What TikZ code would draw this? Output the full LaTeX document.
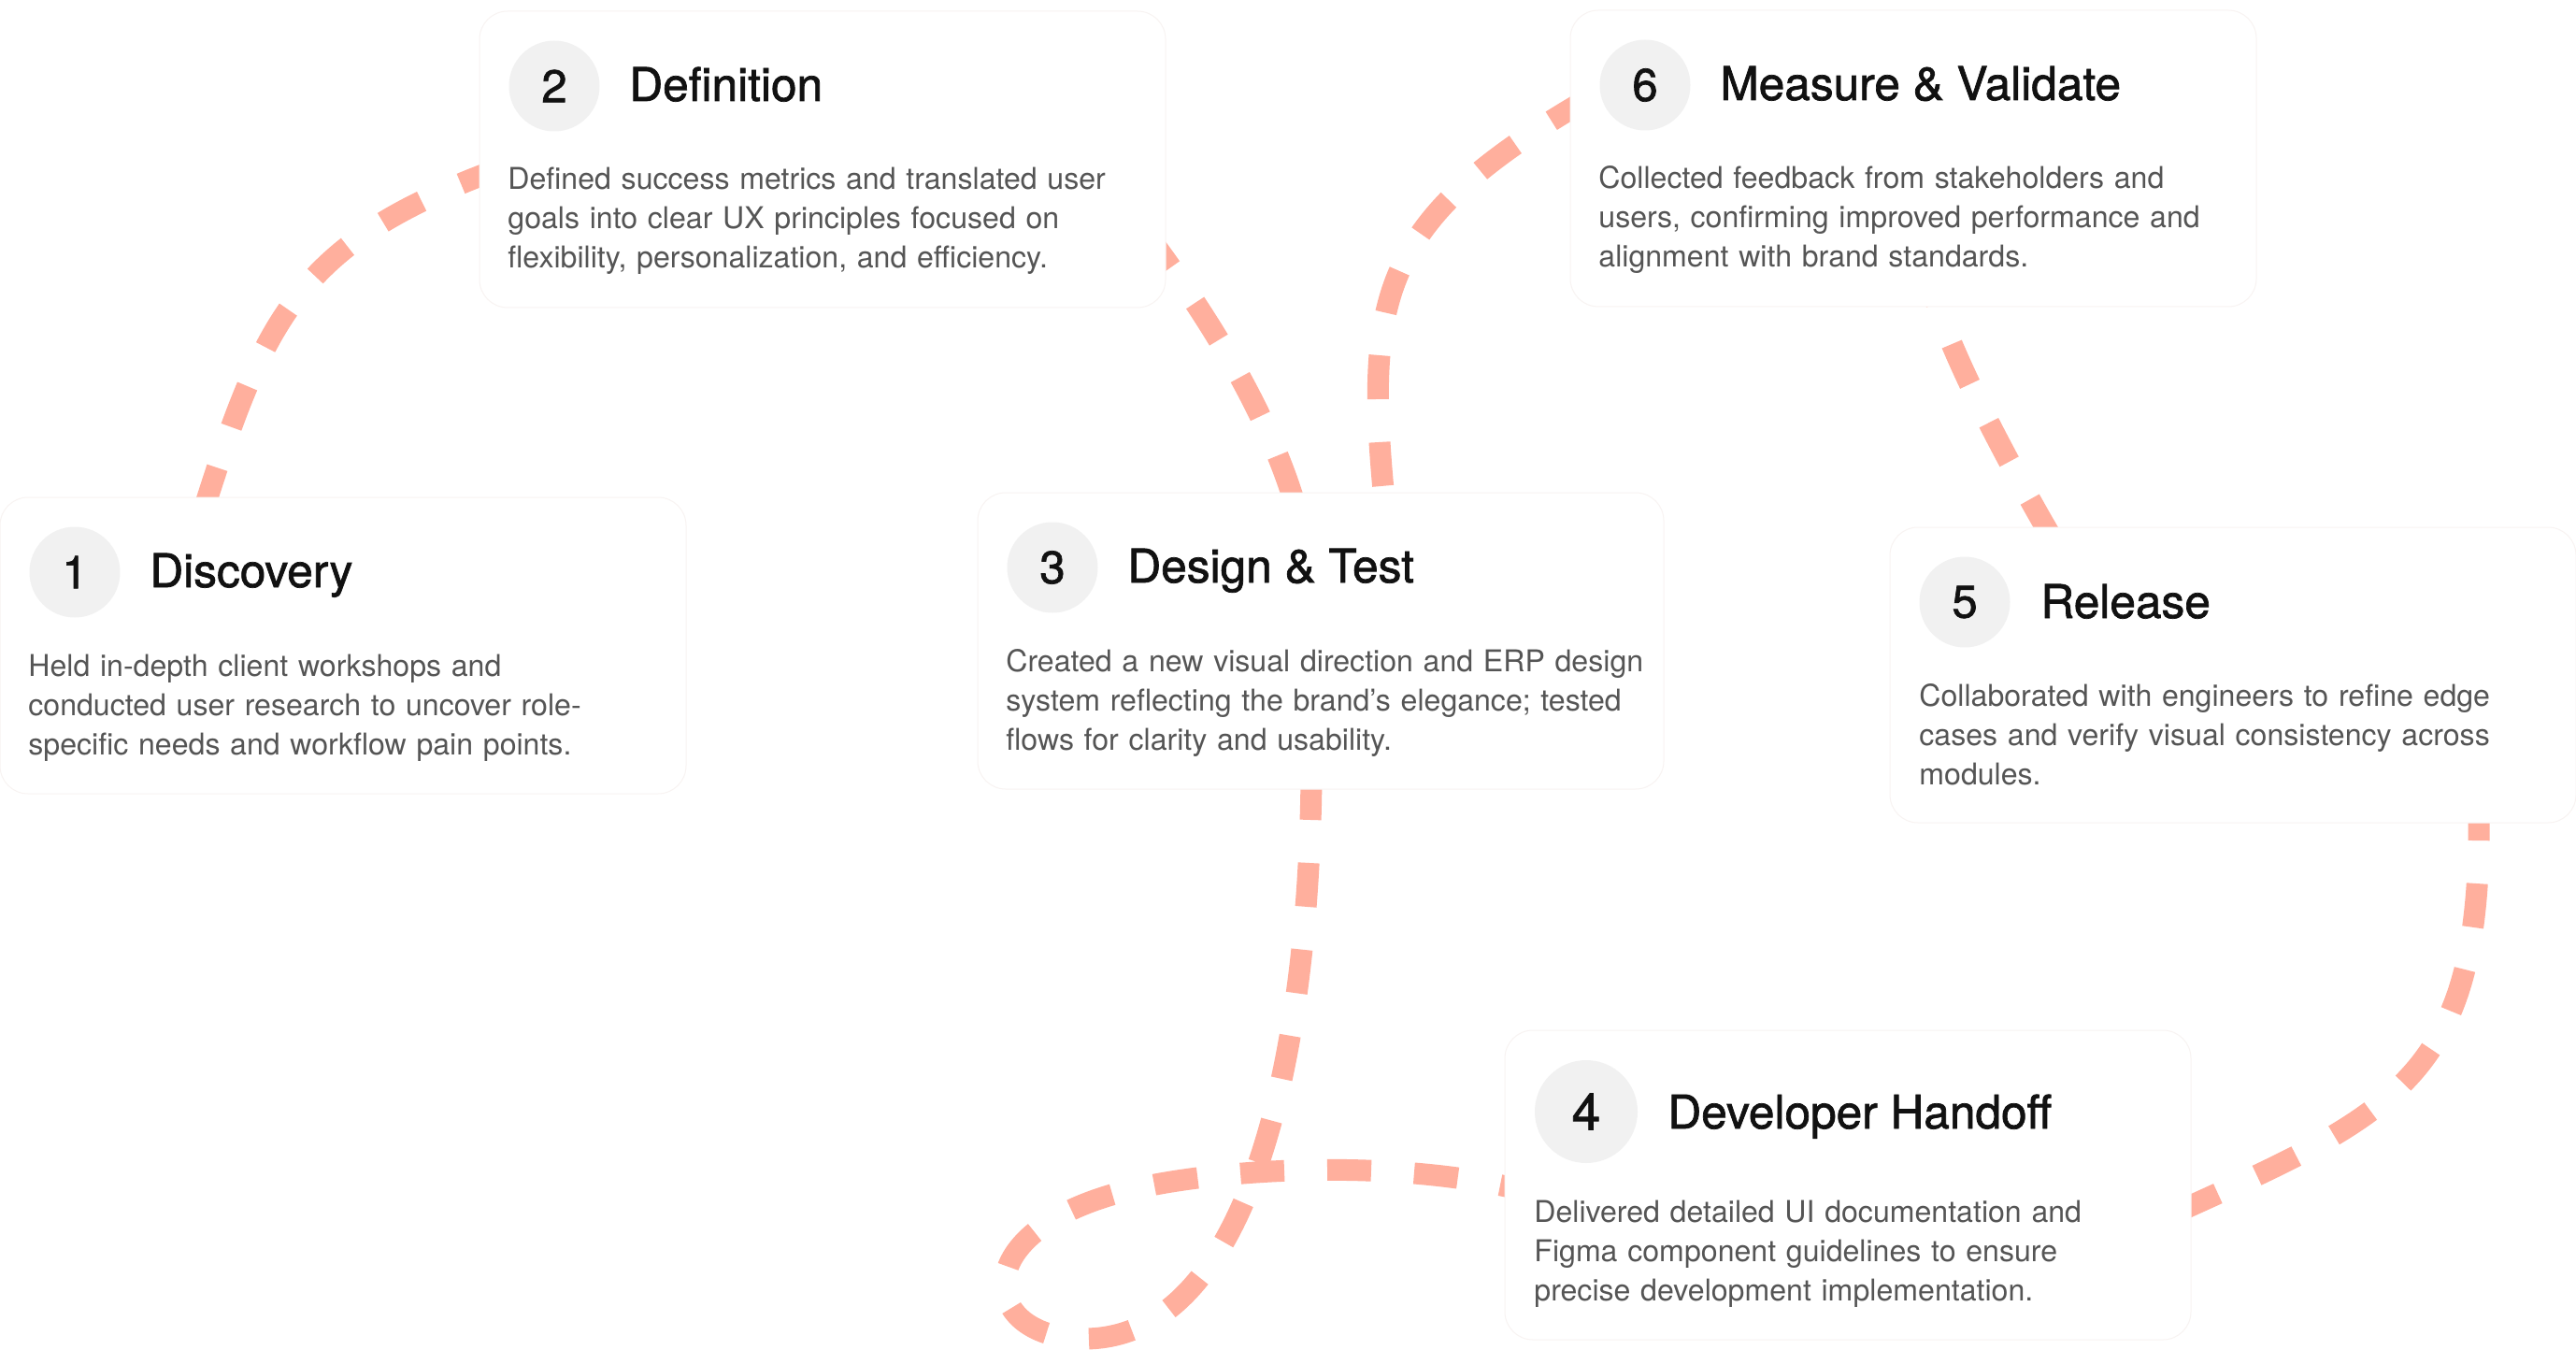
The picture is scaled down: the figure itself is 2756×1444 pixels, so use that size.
\documentclass[tikz,border=0pt]{standalone}
\usepackage{fontspec}
\setmainfont{TeX Gyre Heros}
\newfontfamily\headfont{TeX Gyre Heros}[FakeBold=1.4]
\usetikzlibrary{calc}
\definecolor{trailc}{HTML}{FFAF9D}
\definecolor{circc}{HTML}{F1F1F1}
\definecolor{edgec}{HTML}{F8F3F2}
\definecolor{bodyc}{HTML}{555555}
\definecolor{headc}{HTML}{111111}
\pgfdeclarelayer{bg}
\pgfsetlayers{bg,main}
\begin{document}
\begin{tikzpicture}[x=0.5pt,y=-0.5pt,
  card/.style={draw=edgec, line width=0.5pt, fill=white, rounded corners=15pt,
    minimum width=367pt, minimum height=158.5pt, anchor=north west, inner sep=0pt, outer sep=0pt},
  numdisc/.style={circle, fill=circc, minimum size=48.5pt, inner sep=0pt,
    font=\headfont\fontsize{24.5}{24.5}\selectfont, text=headc},
  heading/.style={anchor=base west, inner sep=0pt, font=\headfont\fontsize{24.8}{29}\selectfont, text=headc},
  bodytext/.style={anchor=base west, inner sep=0pt, text width=360pt, align=left,
    font=\fontsize{16.05}{21}\selectfont, text=bodyc},
  trail/.style={draw=trailc, line width=11.5pt, dash pattern=on 23.5pt off 23pt}
]
\useasboundingbox (0,0) rectangle (2756,1444);

% cards
\node[card] (c1) at (0,532) {};
\node[card] (c2) at (513,12) {};
\node[card] (c3) at (1046,527) {};
\node[card, minimum height=165.5pt] (c4) at (1610,1102) {};
\node[card, minimum height=158pt] (c5) at (2022,564) {};
\node[card] (c6) at (1680,11) {};

% card 1
\node[numdisc] (n1) at ($(c1.north west)+(80,80)$) {1};
\node[heading] (h1) at ($(c1.north west)+(160,96)$) {Discovery};
\node[bodytext] (b1) at ($(c1.north west)+(30,191)$) {Held in-depth client workshops and\\conducted user research to uncover role-\\specific needs and workflow pain points.};

% card 2
\node[numdisc] (n2) at ($(c2.north west)+(80,80)$) {2};
\node[heading] (h2) at ($(c2.north west)+(160,96)$) {Definition};
\node[bodytext] (b2) at ($(c2.north west)+(30,191)$) {Defined success metrics and translated user\\goals into clear UX principles focused on\\flexibility, personalization, and efficiency.};

% card 3
\node[numdisc] (n3) at ($(c3.north west)+(80,80)$) {3};
\node[heading] (h3) at ($(c3.north west)+(160,96)$) {Design \& Test};
\node[bodytext] (b3) at ($(c3.north west)+(30,191)$) {Created a new visual direction and ERP design\\system reflecting the brand's elegance; tested\\flows for clarity and usability.};

% card 4
\node[numdisc, minimum size=55pt, font=\headfont\fontsize{27.5}{27.5}\selectfont] (n4) at ($(c4.north west)+(87,87)$) {4};
\node[heading] (h4) at ($(c4.north west)+(174,105)$) {Developer Handoff};
\node[bodytext] (b4) at ($(c4.north west)+(31,205)$) {Delivered detailed UI documentation and\\Figma component guidelines to ensure\\precise development implementation.};

% card 5
\node[numdisc] (n5) at ($(c5.north west)+(80,80)$) {5};
\node[heading] (h5) at ($(c5.north west)+(161,97)$) {Release};
\node[bodytext] (b5) at ($(c5.north west)+(31,191)$) {Collaborated with engineers to refine edge\\cases and verify visual consistency across\\modules.};

% card 6
\node[numdisc] (n6) at ($(c6.north west)+(80,80)$) {6};
\node[heading] (h6) at ($(c6.north west)+(160,96)$) {Measure \& Validate};
\node[bodytext] (b6) at ($(c6.north west)+(30,191)$) {Collected feedback from stakeholders and\\users, confirming improved performance and\\alignment with brand standards.};

% connector end points (inside the cards, hidden by them)
\coordinate (s12) at ($(c1.north west)+(218,13)$);
\coordinate (e12) at ($(c2.north west)+(17,170)$);
\coordinate (s23) at ($(c2.north west)+(712,236)$);
\coordinate (e23) at ($(c3.north west)+(342,21)$);
\coordinate (s34) at ($(c3.north west)+(357,303)$);
\coordinate (e34) at ($(c4.north west)+(15,170)$);
\coordinate (s45) at ($(c4.north west)+(720,194)$);
\coordinate (e45) at ($(c5.north west)+(630,306)$);
\coordinate (s56) at ($(c5.north west)+(173,11)$);
\coordinate (e56) at ($(c6.north west)+(388,301)$);
\coordinate (s63) at ($(c6.north west)+(20,94)$);
\coordinate (e63) at ($(c3.north west)+(436,18)$);

\begin{pgfonlayer}{bg}
\fill[white] (0,0) rectangle (2756,1444);
\draw[trail] (s12) .. controls (284,336) and (323,259) .. (e12);
\draw[trail] (s23) .. controls (1291,336) and (1358,442) .. (e23);
\draw[trail] (s34) .. controls (1400,1150) and (1330,1432) .. (1160,1432)
                   .. controls (1050,1432) and (1030,1320) .. (1200,1275)
                   .. controls (1290,1251) and (1480,1238) .. (e34);
\draw[trail] (s45) .. controls (2567,1189) and (2655,1150) .. (e45);
\draw[trail] (s56) .. controls (2160,515) and (2088,385) .. (e56);
\draw[trail] (s63) .. controls (1476,235) and (1459,315) .. (e63);
\end{pgfonlayer}
\end{tikzpicture}
\end{document}
